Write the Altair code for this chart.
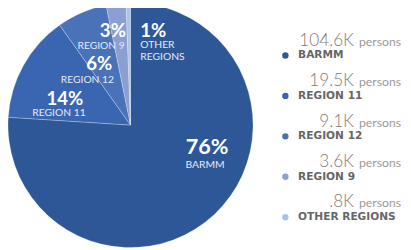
import math
import altair as alt
import pandas as pd

regions = ["BARMM", "REGION 11", "REGION 12", "REGION 9", "OTHER REGIONS"]
values_k = [104.6, 19.5, 9.1, 3.6, 0.8]
pct_labels = ["76%", "14%", "6%", "3%", "1%"]
colors = ["#2e5797", "#3a65b0", "#4a72b9", "#8c9fd3", "#aac4e8"]

# layout (annotation placement only)
CX, CY, R = 125, 117, 125
pie_label_offsets = {  # (dx, dy) of percent label from pie centre, region label dy below it
    "BARMM": (78, 22, 19),
    "REGION 11": (-67, -26, 14),
    "REGION 12": (-32, -62, 16),
    "REGION 9": (-18, -96, 15),
}
name_dx = {"BARMM": -2, "REGION 11": -6, "REGION 12": -12, "REGION 9": -12}

FONT = "Lato"

df = pd.DataFrame({"region": regions, "value": values_k, "order": range(len(regions))})

color_scale = alt.Scale(domain=regions, range=colors)

pie = alt.Chart(df).mark_arc(outerRadius=R, stroke="#ffffff", strokeWidth=0.5, strokeOpacity=0.5).encode(
    theta=alt.Theta("value:Q", stack=True),
    color=alt.Color("region:N", scale=color_scale, legend=None, sort=regions),
    order=alt.Order("order:Q"),
    x=alt.value(CX),
    y=alt.value(CY),
)

rows_pct, rows_name = [], []
for reg, p in zip(regions, pct_labels):
    if reg in pie_label_offsets:
        dx, dy, ndy = pie_label_offsets[reg]
        rows_pct.append({"t": p, "lx": CX + dx, "ly": CY + dy, "big": reg == "BARMM"})
        rows_name.append({"t": reg, "lx": CX + dx + name_dx[reg], "ly": CY + dy + ndy})
pct_df = pd.DataFrame(rows_pct)
name_df = pd.DataFrame(rows_name)

pct_big = alt.Chart(pct_df[pct_df.big]).mark_text(
    font=FONT, fontWeight="bold", fontSize=22, color="#ffffff", align="center", baseline="middle"
).encode(x=alt.X("lx:Q", scale=None), y=alt.Y("ly:Q", scale=None), text="t:N")
pct_small = alt.Chart(pct_df[~pct_df.big]).mark_text(
    font=FONT, fontWeight="bold", fontSize=19, color="#ffffff", align="center", baseline="middle"
).encode(x=alt.X("lx:Q", scale=None), y=alt.Y("ly:Q", scale=None), text="t:N")
names = alt.Chart(name_df).mark_text(
    font=FONT, fontSize=10.5, color="#e4eaf6", align="center", baseline="middle"
).encode(x=alt.X("lx:Q", scale=None), y=alt.Y("ly:Q", scale=None), text="t:N")

other_df = pd.DataFrame({
    "t": [pct_labels[4], "OTHER", "REGIONS"],
    "lx": [CX + 10, CX + 10, CX + 10],
    "ly": [CY - 96, CY - 82, CY - 69],
})
other_pct = alt.Chart(other_df.iloc[:1]).mark_text(
    font=FONT, fontWeight="bold", fontSize=19, color="#ffffff", align="left", baseline="middle"
).encode(x=alt.X("lx:Q", scale=None), y=alt.Y("ly:Q", scale=None), text="t:N")
other_names = alt.Chart(other_df.iloc[1:]).mark_text(
    font=FONT, fontSize=10.5, color="#e4eaf6", align="left", baseline="middle"
).encode(x=alt.X("lx:Q", scale=None), y=alt.Y("ly:Q", scale=None), text="t:N")

leg_df = df.copy()
leg_df["vtxt"] = [(f"{v:.1f}".lstrip("0") + "K") for v in values_k]
leg_df["ptxt"] = "persons"
ypos = alt.Y("region:N", sort=regions, scale=alt.Scale(domain=regions, range=[46, 211], padding=0), axis=None)

dots = alt.Chart(leg_df).mark_circle(size=42, opacity=1).encode(
    x=alt.value(283), y=ypos,
    color=alt.Color("region:N", scale=color_scale, legend=None),
)
leg_names = alt.Chart(leg_df).mark_text(
    font="DejaVu Sans", fontWeight="bold", fontSize=10.8, color="#666666", align="left", baseline="middle"
).encode(x=alt.value(296), y=ypos, text="region:N")
leg_vals = alt.Chart(leg_df).mark_text(
    font=FONT, fontWeight=300, fontSize=17.5, color="#7c7c7c", align="right", baseline="alphabetic", dy=-10
).encode(x=alt.value(353), y=ypos, text="vtxt:N")
leg_persons = alt.Chart(leg_df).mark_text(
    font=FONT, fontSize=12.5, color="#9a9a9a", align="right", baseline="alphabetic", dy=-10
).encode(x=alt.value(401), y=ypos, text="ptxt:N")

chart = alt.layer(
    pie, pct_big, pct_small, names, other_pct, other_names, dots, leg_names, leg_vals, leg_persons
).resolve_scale(y="independent", x="independent").properties(
    width=403, height=242, autosize=alt.AutoSizeParams(type="none"), padding=0
).configure_view(stroke=None)

chart.save("out.html", embed_options={"renderer": "svg", "actions": False})
